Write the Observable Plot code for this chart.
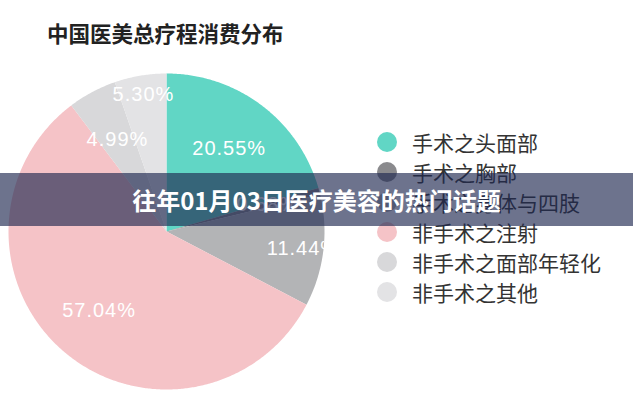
<!DOCTYPE html>
<html><head><meta charset="utf-8">
<script src="https://cdn.jsdelivr.net/npm/d3@7"></script>
<script src="https://cdn.jsdelivr.net/npm/@observablehq/plot@0.6"></script>
<style>
body{margin:0;background:#fff;}
#wrap{position:relative;width:633px;height:400px;overflow:hidden;font-family:"Noto Sans CJK SC","Noto Sans",sans-serif;background:#fff;}
#chart{position:absolute;left:0;top:0;}
#title{position:absolute;left:47px;top:21px;font-size:21.5px;line-height:24px;font-weight:700;color:#222;white-space:nowrap;}
#legend{position:absolute;left:377px;top:127px;}
.row{display:flex;align-items:center;height:30px;}
.sw{width:20px;height:20px;border-radius:50%;margin-right:15px;flex:none;}
.lt{font-size:21px;line-height:30px;color:#333;white-space:nowrap;}
#band{position:absolute;left:0;top:173px;width:633px;height:53px;background:rgba(30,40,80,0.65);color:#fff;font-size:24px;font-weight:700;line-height:53px;text-align:center;white-space:nowrap;}
</style></head><body>
<div id="wrap">
  <div id="chart"></div>
  <div id="title">中国医美总疗程消费分布</div>
  <div id="legend"></div>
  <div id="band">往年01月03日医疗美容的热门话题</div>
</div>
<script>
const categories = ["手术之头面部", "手术之胸部", "手术之身体与四肢", "非手术之注射", "非手术之面部年轻化", "非手术之其他"];
const values = [20.55, 0.68, 11.44, 57.04, 4.99, 5.30];
const colors = ["#61d6c5", "#8a8a8d", "#b3b4b6", "#f5c3c7", "#d8d8da", "#e3e3e5"];

const arcs = d3.pie().sort(null).value(d => d)(values);
const polys = [];
arcs.forEach((a, i) => {
  polys.push({key: i, x: 0, y: 0, color: colors[i]});
  const n = Math.max(2, Math.ceil((a.endAngle - a.startAngle) / (Math.PI / 360)));
  for (let k = 0; k <= n; k++) {
    const t = a.startAngle + (a.endAngle - a.startAngle) * k / n;
    polys.push({key: i, x: Math.sin(t), y: Math.cos(t), color: colors[i]});
  }
  polys.push({key: i, x: 0, y: 0, color: colors[i]});
});
const labelFrac = i => (i === 2 ? 0.87 : i === 5 ? 0.88 : 0.66);
const labs = arcs.map((a, i) => {
  const m = (a.startAngle + a.endAngle) / 2;
  const f = labelFrac(i);
  return {x: Math.sin(m) * f, y: Math.cos(m) * f, text: values[i].toFixed(2) + "%"};
});

const chart = Plot.plot({
  width: 633, height: 400,
  marginLeft: 8, marginRight: 309, marginTop: 73, marginBottom: 11,
  x: {domain: [-1, 1], axis: null},
  y: {domain: [-1, 1], axis: null},
  color: {type: "identity"},
  style: {background: "transparent"},
  marks: [
    Plot.line(polys, {x: "x", y: "y", z: "key", fill: "color", stroke: "none", curve: "linear"}),
    Plot.text(labs, {x: "x", y: "y", text: "text", fill: "white", fontSize: 20, clip: true,
      fontFamily: "'Liberation Sans', Arial, sans-serif"})
  ]
});
chart.querySelectorAll("text").forEach(t => t.setAttribute("letter-spacing", "1"));
document.getElementById("chart").appendChild(chart);

const legend = document.getElementById("legend");
categories.forEach((c, i) => {
  const row = document.createElement("div");
  row.className = "row";
  const sw = document.createElement("span");
  sw.className = "sw";
  sw.style.background = colors[i];
  const lt = document.createElement("span");
  lt.className = "lt";
  lt.textContent = c;
  row.appendChild(sw); row.appendChild(lt);
  legend.appendChild(row);
});
</script>
</body></html>
